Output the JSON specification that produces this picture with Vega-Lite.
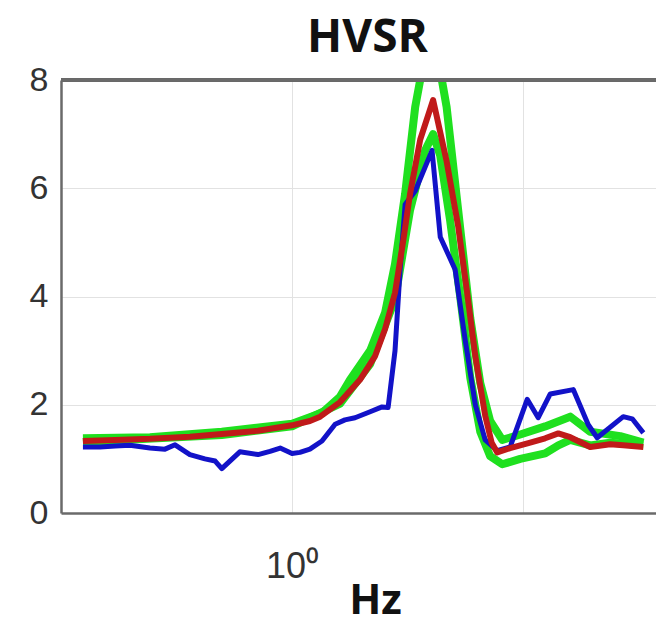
{
  "$schema": "https://vega.github.io/schema/vega-lite/v6.json",
  "autosize": {"type": "none"},
  "padding": {"left": 61, "top": 80, "right": 0, "bottom": 126},
  "width": 595,
  "height": 433,
  "background": "white",
  "title": {"text": "HVSR", "font": "Open Sans", "fontWeight": "bold", "fontSize": 46, "color": "#111111", "frame": "group", "anchor": "middle", "baseline": "bottom", "offset": 6, "dx": 9, "dy": 51},
  "datasets": {
    "hvsr": [
      {"s": "upper", "f": 0.534, "v": 1.38}, {"s": "upper", "f": 0.653, "v": 1.4}, {"s": "upper", "f": 0.81, "v": 1.5}, {"s": "upper", "f": 1.0, "v": 1.65}, {"s": "upper", "f": 1.094, "v": 1.85}, {"s": "upper", "f": 1.155, "v": 2.15}, {"s": "upper", "f": 1.19, "v": 2.46}, {"s": "upper", "f": 1.264, "v": 3.0}, {"s": "upper", "f": 1.322, "v": 3.7}, {"s": "upper", "f": 1.362, "v": 4.6}, {"s": "upper", "f": 1.404, "v": 5.9}, {"s": "upper", "f": 1.447, "v": 7.5}, {"s": "upper", "f": 1.491, "v": 8.5}, {"s": "upper", "f": 1.541, "v": 8.6}, {"s": "upper", "f": 1.59, "v": 7.5}, {"s": "upper", "f": 1.646, "v": 5.6}, {"s": "upper", "f": 1.707, "v": 3.6}, {"s": "upper", "f": 1.759, "v": 2.4}, {"s": "upper", "f": 1.812, "v": 1.7}, {"s": "upper", "f": 1.879, "v": 1.35}, {"s": "upper", "f": 1.983, "v": 1.45}, {"s": "upper", "f": 2.137, "v": 1.6}, {"s": "upper", "f": 2.304, "v": 1.78}, {"s": "upper", "f": 2.446, "v": 1.5}, {"s": "upper", "f": 2.677, "v": 1.42}, {"s": "upper", "f": 2.869, "v": 1.3},
      {"s": "lower", "f": 0.534, "v": 1.31}, {"s": "lower", "f": 0.81, "v": 1.44}, {"s": "lower", "f": 1.0, "v": 1.6}, {"s": "lower", "f": 1.155, "v": 2.02}, {"s": "lower", "f": 1.264, "v": 2.75}, {"s": "lower", "f": 1.362, "v": 3.95}, {"s": "lower", "f": 1.425, "v": 5.6}, {"s": "lower", "f": 1.491, "v": 6.7}, {"s": "lower", "f": 1.527, "v": 7.0}, {"s": "lower", "f": 1.56, "v": 6.6}, {"s": "lower", "f": 1.607, "v": 5.4}, {"s": "lower", "f": 1.656, "v": 4.0}, {"s": "lower", "f": 1.707, "v": 2.5}, {"s": "lower", "f": 1.759, "v": 1.5}, {"s": "lower", "f": 1.812, "v": 1.05}, {"s": "lower", "f": 1.879, "v": 0.9}, {"s": "lower", "f": 1.983, "v": 1.0}, {"s": "lower", "f": 2.137, "v": 1.1}, {"s": "lower", "f": 2.223, "v": 1.25}, {"s": "lower", "f": 2.304, "v": 1.35}, {"s": "lower", "f": 2.446, "v": 1.25}, {"s": "lower", "f": 2.597, "v": 1.3}, {"s": "lower", "f": 2.869, "v": 1.25},
      {"s": "observed", "f": 0.534, "v": 1.22}, {"s": "observed", "f": 0.562, "v": 1.22}, {"s": "observed", "f": 0.588, "v": 1.24}, {"s": "observed", "f": 0.615, "v": 1.25}, {"s": "observed", "f": 0.653, "v": 1.2}, {"s": "observed", "f": 0.683, "v": 1.18}, {"s": "observed", "f": 0.704, "v": 1.26}, {"s": "observed", "f": 0.736, "v": 1.08}, {"s": "observed", "f": 0.77, "v": 1.0}, {"s": "observed", "f": 0.794, "v": 0.96}, {"s": "observed", "f": 0.81, "v": 0.82}, {"s": "observed", "f": 0.855, "v": 1.13}, {"s": "observed", "f": 0.903, "v": 1.08}, {"s": "observed", "f": 0.936, "v": 1.14}, {"s": "observed", "f": 0.965, "v": 1.2}, {"s": "observed", "f": 1.0, "v": 1.1}, {"s": "observed", "f": 1.024, "v": 1.12}, {"s": "observed", "f": 1.055, "v": 1.18}, {"s": "observed", "f": 1.094, "v": 1.33}, {"s": "observed", "f": 1.138, "v": 1.64}, {"s": "observed", "f": 1.172, "v": 1.72}, {"s": "observed", "f": 1.208, "v": 1.76}, {"s": "observed", "f": 1.264, "v": 1.87}, {"s": "observed", "f": 1.31, "v": 1.96}, {"s": "observed", "f": 1.334, "v": 1.95}, {"s": "observed", "f": 1.362, "v": 3.0}, {"s": "observed", "f": 1.383, "v": 4.5}, {"s": "observed", "f": 1.404, "v": 5.7}, {"s": "observed", "f": 1.447, "v": 5.95}, {"s": "observed", "f": 1.522, "v": 6.7}, {"s": "observed", "f": 1.56, "v": 5.1}, {"s": "observed", "f": 1.631, "v": 4.5}, {"s": "observed", "f": 1.681, "v": 3.2}, {"s": "observed", "f": 1.733, "v": 2.0}, {"s": "observed", "f": 1.785, "v": 1.35}, {"s": "observed", "f": 1.851, "v": 1.15}, {"s": "observed", "f": 1.924, "v": 1.22}, {"s": "observed", "f": 2.025, "v": 2.1}, {"s": "observed", "f": 2.093, "v": 1.76}, {"s": "observed", "f": 2.17, "v": 2.2}, {"s": "observed", "f": 2.325, "v": 2.28}, {"s": "observed", "f": 2.432, "v": 1.63}, {"s": "observed", "f": 2.498, "v": 1.39}, {"s": "observed", "f": 2.701, "v": 1.78}, {"s": "observed", "f": 2.775, "v": 1.74}, {"s": "observed", "f": 2.869, "v": 1.48},
      {"s": "model", "f": 0.534, "v": 1.33}, {"s": "model", "f": 0.588, "v": 1.35}, {"s": "model", "f": 0.653, "v": 1.37}, {"s": "model", "f": 0.736, "v": 1.41}, {"s": "model", "f": 0.81, "v": 1.46}, {"s": "model", "f": 0.903, "v": 1.52}, {"s": "model", "f": 1.0, "v": 1.62}, {"s": "model", "f": 1.055, "v": 1.7}, {"s": "model", "f": 1.088, "v": 1.78}, {"s": "model", "f": 1.155, "v": 2.05}, {"s": "model", "f": 1.226, "v": 2.46}, {"s": "model", "f": 1.283, "v": 2.9}, {"s": "model", "f": 1.322, "v": 3.4}, {"s": "model", "f": 1.362, "v": 4.07}, {"s": "model", "f": 1.395, "v": 5.0}, {"s": "model", "f": 1.425, "v": 5.9}, {"s": "model", "f": 1.469, "v": 6.9}, {"s": "model", "f": 1.527, "v": 7.63}, {"s": "model", "f": 1.59, "v": 6.5}, {"s": "model", "f": 1.646, "v": 5.3}, {"s": "model", "f": 1.691, "v": 4.07}, {"s": "model", "f": 1.733, "v": 2.9}, {"s": "model", "f": 1.785, "v": 1.8}, {"s": "model", "f": 1.82, "v": 1.3}, {"s": "model", "f": 1.851, "v": 1.12}, {"s": "model", "f": 1.924, "v": 1.2}, {"s": "model", "f": 2.043, "v": 1.3}, {"s": "model", "f": 2.137, "v": 1.38}, {"s": "model", "f": 2.223, "v": 1.47}, {"s": "model", "f": 2.304, "v": 1.4}, {"s": "model", "f": 2.446, "v": 1.22}, {"s": "model", "f": 2.597, "v": 1.27}, {"s": "model", "f": 2.701, "v": 1.25}, {"s": "model", "f": 2.869, "v": 1.22}
    ]
  },
  "data": {"name": "hvsr"},
  "encoding": {
    "x": {"field": "f", "type": "quantitative", "scale": {"type": "log", "domain": [0.5, 2.98], "nice": false},
          "axis": {"title": "Hz", "values": [1, 2], "labelExpr": "datum.value == 1 ? '10⁰' : ''", "titleX": 314, "titlePadding": -4}},
    "y": {"field": "v", "type": "quantitative", "scale": {"domain": [0, 8], "nice": false, "zero": false},
          "axis": {"title": null, "values": [0, 2, 4, 6, 8]}}
  },
  "layer": [
    {"mark": {"type": "line", "clip": true, "color": "#1fe01f", "strokeWidth": 8, "strokeJoin": "round"},
     "transform": [{"filter": "datum.s == 'upper' || datum.s == 'lower'"}],
     "encoding": {"detail": {"field": "s"}}},
    {"mark": {"type": "line", "clip": true, "color": "#1212c8", "strokeWidth": 5, "strokeJoin": "round"},
     "transform": [{"filter": "datum.s == 'observed'"}]},
    {"mark": {"type": "line", "clip": true, "color": "#c01a1a", "strokeWidth": 6, "strokeJoin": "round"},
     "transform": [{"filter": "datum.s == 'model'"}]},
    {"mark": {"type": "rule", "color": "#6a6a6a", "strokeWidth": 2.5},
     "encoding": {"x": null, "y": {"datum": 8}}}
  ],
  "config": {
    "view": {"stroke": null},
    "axis": {
      "grid": true, "gridColor": "#e2e2e2", "gridWidth": 1, "ticks": false,
      "domainColor": "#6a6a6a", "domainWidth": 2.5,
      "labelFont": "Liberation Sans", "labelColor": "#333333",
      "titleFont": "Open Sans", "titleFontWeight": "bold", "titleColor": "#111111", "titleFontSize": 42
    },
    "axisX": {"labelFontSize": 36, "labelPadding": 36},
    "axisY": {"labelFontSize": 34, "labelPadding": 13}
  }
}
